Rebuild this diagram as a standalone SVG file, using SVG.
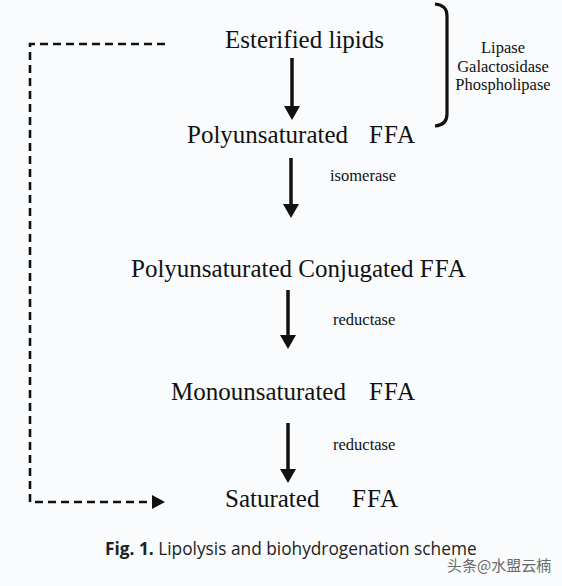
<svg xmlns="http://www.w3.org/2000/svg" width="562" height="586" viewBox="0 0 562 586">
  <style>
    .node { font-family: "Liberation Serif", "Times New Roman", serif; font-size: 25px; fill: #111; }
    .enz { font-family: "Liberation Serif", "Times New Roman", serif; font-size: 16.5px; fill: #111; }
    .arrow { stroke: #111; stroke-width: 3.5; fill: none; }
    .dash { stroke: #111; stroke-width: 2.6; fill: none; stroke-dasharray: 8 5; }
    .cap { font-family: "Open Sans", "Noto Sans", sans-serif; font-size: 17.3px; fill: #222; }
    .wm { font-family: "Noto Sans CJK SC", "Noto Sans", sans-serif; font-size: 15px; fill: #6a6a6a; }
  </style>
  <defs>
    <marker id="head" markerUnits="userSpaceOnUse" markerWidth="14" markerHeight="16" refX="1" refY="8" orient="auto">
      <path d="M0,0 L14,8 L0,16 z" fill="#111"/>
    </marker>
    <marker id="dhead" markerUnits="userSpaceOnUse" markerWidth="14" markerHeight="14" refX="1" refY="7" orient="auto">
      <path d="M0,0 L13,7 L0,14 z" fill="#111"/>
    </marker>
  </defs>
  <rect x="0" y="0" width="562" height="586" fill="#f9fbfc"/>

  <g id="connectors">
    <line class="arrow" x1="292" y1="58" x2="292" y2="107" marker-end="url(#head)"/>
    <line class="arrow" x1="291" y1="158" x2="291" y2="205" marker-end="url(#head)"/>
    <line class="arrow" x1="288" y1="290" x2="288" y2="336" marker-end="url(#head)"/>
    <line class="arrow" x1="288" y1="423" x2="288" y2="470" marker-end="url(#head)"/>
    <path class="dash" d="M165,44 H30 V502 H153" marker-end="url(#dhead)"/>
  </g>

  <g id="bracket">
    <path d="M435,4 Q447,5 447,16 V114 Q447,125 435,126" stroke="#111" stroke-width="3.2" fill="none"/>
  </g>

  <g id="esterified">
    <text class="node" x="225" y="48">Esterified lipids</text>
  </g>
  <g id="enzymes-lipolysis">
    <text class="enz" x="503" y="53" text-anchor="middle">Lipase</text>
    <text class="enz" x="503" y="72" text-anchor="middle">Galactosidase</text>
    <text class="enz" x="503" y="90" text-anchor="middle">Phospholipase</text>
  </g>
  <g id="pufa">
    <text class="node" x="187" y="143">Polyunsaturated <tspan x="369" letter-spacing="1">FFA</tspan></text>
  </g>
  <g id="isomerase">
    <text class="enz" x="330" y="181">isomerase</text>
  </g>
  <g id="cla">
    <text class="node" x="131" y="277" font-size="25.5">Polyunsaturated Conjugated <tspan letter-spacing="1">FFA</tspan></text>
  </g>
  <g id="reductase1">
    <text class="enz" x="333" y="325">reductase</text>
  </g>
  <g id="mufa">
    <text class="node" x="171" y="400">Monounsaturated <tspan x="369" letter-spacing="1">FFA</tspan></text>
  </g>
  <g id="reductase2">
    <text class="enz" x="333" y="450">reductase</text>
  </g>
  <g id="sfa">
    <text class="node" x="225" y="507">Saturated <tspan x="352" letter-spacing="1">FFA</tspan></text>
  </g>

  <g id="caption">
    <text class="cap" x="105" y="555"><tspan font-weight="bold">Fig. 1.</tspan> Lipolysis and biohydrogenation scheme</text>
  </g>
  <g id="watermark">
    <text class="wm" x="447" y="571">头条@水盟云楠</text>
  </g>
</svg>
